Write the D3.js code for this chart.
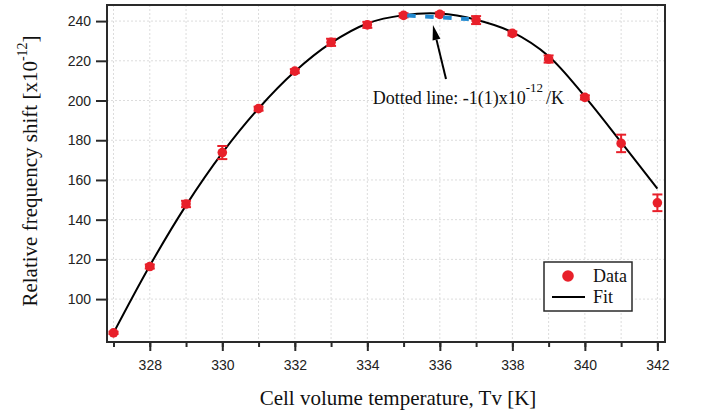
<!DOCTYPE html>
<html>
<head>
<meta charset="utf-8">
<script src="https://cdn.jsdelivr.net/npm/d3@7"></script>
<style>
	body { margin: 0; background: #fff; }
	svg { display: block; }
	.tick text { font-family: "Liberation Sans", Arial, sans-serif; font-size: 14px; fill: #222; }
	.serif { font-family: "Liberation Serif", "Times New Roman", serif; fill: #111; }
</style>
</head>
<body>
<svg id="viz"></svg>
<script>
// Data
const temps = [327, 328, 329, 330, 331, 332, 333, 334, 335, 336, 337, 338, 339, 340, 341, 342];
const shift = [83.0, 116.4, 147.9, 173.8, 195.9, 214.8, 229.3, 238.1, 242.9, 243.4, 240.5, 233.8, 220.9, 201.6, 178.4, 148.5];
const shiftErr = [0.6, 1.0, 1.6, 3.3, 1.0, 1.0, 1.8, 1.5, 1.0, 1.0, 2.0, 1.0, 1.8, 1.0, 4.4, 4.2];
const fitT = [327, 328, 329, 330, 331, 332, 333, 334, 335, 336, 337, 338, 339, 340, 341, 342];
const fitV = [83.0, 116.8, 147.2, 173.6, 196.0, 214.6, 229.0, 238.8, 243.0, 243.8, 240.7, 234.4, 222.3, 202.0, 179.0, 155.6];
const dottedT = [335.1, 336.8];
const dottedV = [242.8, 241.0];
const yTicks = [100, 120, 140, 160, 180, 200, 220, 240];
const xMajor = [328, 330, 332, 334, 336, 338, 340, 342];
const xMinor = d3.range(327, 343);
const arrowFrom = [336.17, 210.8];
const arrowTo = [335.81, 238.0];
const noteAt = [334.15, 198.3];

const width = 701;
const height = 418;
const margin = { top: 5, right: 36, bottom: 76, left: 107 };
const plotWidth = width - margin.left - margin.right;
const plotHeight = height - margin.top - margin.bottom;

const red = "#e8202a";
const blue = "#2189d0";

const svg = d3.select("svg#viz").attr("width", width).attr("height", height);

const x = d3.scaleLinear().domain([326.82, 342.21]).range([0, plotWidth]);
const y = d3.scaleLinear().domain([78.4, 248.1]).range([plotHeight, 0]);

const plot = svg.append("g").attr("transform", translate(margin.left, margin.top));

// grid
plot.append("g").selectAll("line")
	.data(xMinor)
	.join("line")
	.attr("x1", d => x(d)).attr("x2", d => x(d))
	.attr("y1", 0).attr("y2", plotHeight)
	.attr("stroke", "#dcdcdc").attr("stroke-dasharray", "2,2");

plot.append("g").selectAll("line")
	.data(yTicks)
	.join("line")
	.attr("x1", 0).attr("x2", plotWidth)
	.attr("y1", d => y(d)).attr("y2", d => y(d))
	.attr("stroke", "#dcdcdc").attr("stroke-dasharray", "2,2");

// fit line
const line = d3.line()
	.x(d => x(d[0]))
	.y(d => y(d[1]))
	.curve(d3.curveCatmullRom);

plot.append("path")
	.datum(fitT.map((t, i) => [t, fitV[i]]))
	.attr("d", line)
	.attr("fill", "none")
	.attr("stroke", "#000")
	.attr("stroke-width", 2);

// error bars + points
const pts = temps.map((t, i) => ({ t: t, v: shift[i], e: shiftErr[i] }));
const eb = plot.append("g").attr("stroke", red).attr("stroke-width", 2);
eb.selectAll("line.v").data(pts).join("line").attr("class", "v")
	.attr("x1", d => x(d.t)).attr("x2", d => x(d.t))
	.attr("y1", d => y(d.v - d.e)).attr("y2", d => y(d.v + d.e));
eb.selectAll("line.top").data(pts).join("line").attr("class", "top")
	.attr("x1", d => x(d.t) - 5).attr("x2", d => x(d.t) + 5)
	.attr("y1", d => y(d.v + d.e)).attr("y2", d => y(d.v + d.e));
eb.selectAll("line.bot").data(pts).join("line").attr("class", "bot")
	.attr("x1", d => x(d.t) - 5).attr("x2", d => x(d.t) + 5)
	.attr("y1", d => y(d.v - d.e)).attr("y2", d => y(d.v - d.e));

plot.append("g").selectAll("circle")
	.data(pts)
	.join("circle")
	.attr("cx", d => x(d.t))
	.attr("cy", d => y(d.v))
	.attr("r", 4.8)
	.attr("fill", red);

// dotted slope line
plot.append("path")
	.datum(dottedT.map((t, i) => [t, dottedV[i]]))
	.attr("d", d3.line().x(d => x(d[0])).y(d => y(d[1])))
	.attr("fill", "none")
	.attr("stroke", blue)
	.attr("stroke-width", 4)
	.attr("stroke-dasharray", "8.5,9.5");

// frame
plot.append("rect")
	.attr("width", plotWidth).attr("height", plotHeight)
	.attr("fill", "none").attr("stroke", "#2a2a2a").attr("stroke-width", 2);

// axes
const xMinorAxis = d3.axisBottom(x).tickValues(xMinor).tickSize(5).tickFormat("");
plot.append("g").attr("transform", translate(0, plotHeight)).call(xMinorAxis)
	.call(g => g.select(".domain").remove())
	.call(g => g.selectAll(".tick line").attr("stroke", "#2a2a2a").attr("stroke-width", 2));

const xAxis = d3.axisBottom(x).tickValues(xMajor).tickSize(9).tickPadding(9).tickFormat(d3.format("d"));
plot.append("g").attr("transform", translate(0, plotHeight)).call(xAxis)
	.call(g => g.select(".domain").remove())
	.call(g => g.selectAll(".tick line").attr("stroke", "#2a2a2a").attr("stroke-width", 2));

const yAxis = d3.axisLeft(y).tickValues(yTicks).tickSize(11).tickPadding(5);
plot.append("g").call(yAxis)
	.call(g => g.select(".domain").remove())
	.call(g => g.selectAll(".tick line").attr("stroke", "#2a2a2a").attr("stroke-width", 2));

// arrow annotation
const ax1 = x(arrowFrom[0]), ay1 = y(arrowFrom[1]);
const ax2 = x(arrowTo[0]), ay2 = y(arrowTo[1]);
const ang = Math.atan2(ay2 - ay1, ax2 - ax1);
const headLen = 15, headW = 4;
const bx = ax2 - headLen * Math.cos(ang), by = ay2 - headLen * Math.sin(ang);
plot.append("line")
	.attr("x1", ax1).attr("y1", ay1).attr("x2", bx).attr("y2", by)
	.attr("stroke", "#000").attr("stroke-width", 2);
plot.append("path")
	.attr("d", "M" + ax2 + "," + ay2 +
		"L" + (bx + headW * Math.sin(ang)) + "," + (by - headW * Math.cos(ang)) +
		"L" + (bx - headW * Math.sin(ang)) + "," + (by + headW * Math.cos(ang)) + "Z")
	.attr("fill", "#000");

const note = plot.append("text").attr("class", "serif")
	.attr("x", x(noteAt[0])).attr("y", y(noteAt[1]))
	.style("font-size", "18px");
note.append("tspan").text("Dotted line: -1(1)x10");
note.append("tspan").attr("dy", -12).style("font-size", "13px").text("-12");
note.append("tspan").attr("dy", 12).attr("dx", 3).text("/K");

// legend
const legend = svg.append("g").attr("transform", translate(544, 262));
legend.append("rect")
	.attr("width", 88).attr("height", 49)
	.attr("fill", "#fff").attr("stroke", "#2a2a2a").attr("stroke-width", 1.5);
legend.append("circle").attr("cx", 24).attr("cy", 14).attr("r", 5.8).attr("fill", red);
legend.append("text").attr("class", "serif").attr("x", 49).attr("y", 20)
	.style("font-size", "18px").text("Data");
legend.append("line").attr("x1", 8).attr("x2", 41).attr("y1", 35).attr("y2", 35)
	.attr("stroke", "#000").attr("stroke-width", 2);
legend.append("text").attr("class", "serif").attr("x", 49).attr("y", 41)
	.style("font-size", "18px").text("Fit");

// axis titles
svg.append("text").attr("class", "serif")
	.attr("x", 398).attr("y", 405)
	.attr("text-anchor", "middle")
	.style("font-size", "21px")
	.text("Cell volume temperature, Tv [K]");

const yl = svg.append("text").attr("class", "serif")
	.attr("transform", translate(37, 171) + " rotate(-90)")
	.attr("text-anchor", "middle")
	.style("font-size", "21px");
yl.append("tspan").text("Relative frequency shift [x10");
yl.append("tspan").attr("dy", -10).style("font-size", "14px").text("-12");
yl.append("tspan").attr("dy", 10).text("]");

function translate(a, b) {
	return "translate(" + a + "," + b + ")";
}
</script>
</body>
</html>
